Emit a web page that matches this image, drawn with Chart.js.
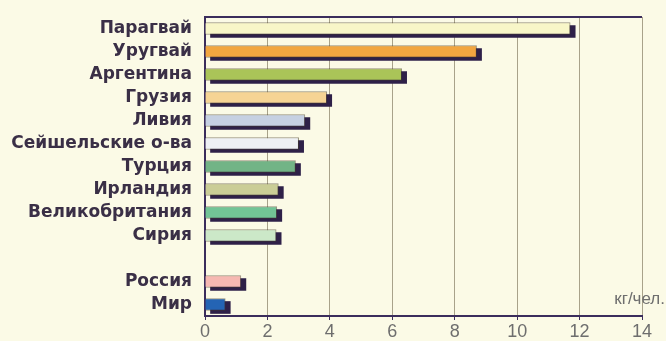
<!DOCTYPE html>
<html>
<head>
<meta charset="utf-8">
<script src="https://cdn.jsdelivr.net/npm/chart.js@4/dist/chart.umd.min.js"></script>
<style>
  html, body { margin: 0; padding: 0; background: #fbfae6; }
  #wrap { position: relative; width: 666px; height: 341px; }
</style>
</head>
<body>
<div id="wrap"><canvas id="barChart" width="666" height="341"></canvas></div>
<script>
// categories, top to bottom ('' is the gap before Russia)
const countries = ['Парагвай', 'Уругвай', 'Аргентина', 'Грузия', 'Ливия', 'Сейшельские о-ва',
  'Турция', 'Ирландия', 'Великобритания', 'Сирия', '', 'Россия', 'Мир'];
// consumption, kg per person
const consumption = [11.7, 8.7, 6.3, 3.9, 3.2, 3.0, 2.9, 2.35, 2.3, 2.28, null, 1.15, 0.65];
const barColors = ['#f8f6c8', '#f2a640', '#aac458', '#f6d494', '#c6d0e2', '#eef0f4',
  '#72b486', '#cacd96', '#72c496', '#cce8c8', '#ffffff', '#f6b8b2', '#2464b4'];
const xTicks = [0, 2, 4, 6, 8, 10, 12, 14];
const unitLabel = 'кг/чел.';

const AXIS = '#3b2d5c';
const SHADOW = '#2e2048';

// shift the shadow dataset down-right, draw top frame line and unit text
const shadowPlugin = {
  id: 'shadow',
  beforeDatasetDraw(chart, args) {
    if (args.index === 1) {
      chart.ctx.save();
      chart.ctx.translate(5, 3);
    }
  },
  afterDatasetDraw(chart, args) {
    if (args.index === 1) chart.ctx.restore();
  },
  afterDraw(chart) {
    const { ctx, chartArea } = chart;
    ctx.save();
    ctx.strokeStyle = AXIS;
    ctx.lineWidth = 2;
    ctx.beginPath();
    ctx.moveTo(chartArea.left, chartArea.top);
    ctx.lineTo(chartArea.right, chartArea.top);
    ctx.stroke();
    ctx.fillStyle = '#6e6e6e';
    ctx.font = '17px "Liberation Sans", Arial, sans-serif';
    ctx.textAlign = 'right';
    ctx.textBaseline = 'alphabetic';
    ctx.fillText(unitLabel, 665, chartArea.bottom - 12);
    ctx.restore();
  }
};

new Chart(document.getElementById('barChart').getContext('2d'), {
  type: 'bar',
  data: {
    labels: countries,
    datasets: [{
      data: consumption,
      backgroundColor: barColors,
      borderColor: 'rgba(70, 60, 40, 0.55)',
      borderWidth: 1,
      barThickness: 12,
      order: 0
    }, {
      data: consumption,
      backgroundColor: SHADOW,
      borderWidth: 0,
      barThickness: 12,
      order: 1
    }]
  },
  options: {
    indexAxis: 'y',
    responsive: false,
    animation: false,
    datasets: { bar: { grouped: false } },
    layout: { padding: { left: 0, right: 24, top: 17, bottom: 0 } },
    plugins: { legend: { display: false }, tooltip: { enabled: false } },
    scales: {
      x: {
        min: 0,
        max: 14,
        afterBuildTicks(scale) { scale.ticks = xTicks.map(v => ({ value: v })); },
        afterFit(scale) { scale.height = 25; },
        grid: { color: '#a8a28a', lineWidth: 1, tickLength: 4, tickColor: AXIS },
        border: { color: AXIS, width: 2 },
        ticks: {
          color: '#6e6e6e',
          padding: 1,
          autoSkip: false,
          maxRotation: 0,
          font: { family: '"Liberation Sans", Arial, sans-serif', size: 18 }
        }
      },
      y: {
        afterFit(scale) { scale.width = 205; },
        grid: { display: false },
        border: { color: AXIS, width: 2 },
        ticks: {
          color: '#3a2f46',
          padding: 5,
          autoSkip: false,
          font: { family: '"DejaVu Sans", sans-serif', size: 17, weight: 'bold' }
        }
      }
    }
  },
  plugins: [shadowPlugin]
});
</script>
</body>
</html>
